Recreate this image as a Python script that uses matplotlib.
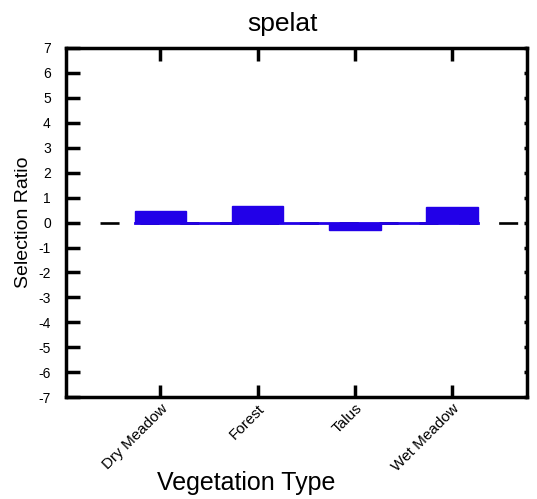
import matplotlib.pyplot as plt
import numpy as np

plt.rcParams['font.family'] = ['Liberation Sans', 'DejaVu Sans']
plt.rcParams['lines.scale_dashes'] = False

# data
categories = ['Dry Meadow', 'Forest', 'Talus', 'Wet Meadow']
ratios = [0.48, 0.65, -0.29, 0.61]
yticks = list(range(-7, 8))

bar_color = '#2200e8'
pos = np.arange(1, len(categories) + 1)
width = 0.53

fig = plt.figure(figsize=(5.37, 4.99), dpi=100)
ax = fig.add_axes([0.123, 0.204, 0.858, 0.700])

# dashed zero reference line
ax.axhline(0, color='black', lw=1.9, linestyle=(4.2, (13.7, 15.0)), zorder=1)
# blue baseline joining the bars
ax.plot([pos[0] - width / 2, pos[-1] + width / 2], [0, 0], color=bar_color, lw=2, zorder=2)
ax.bar(pos, ratios, width=width, color=bar_color, edgecolor=bar_color, lw=1, zorder=3)

ax.set_xlim(0.03, 4.77)
ax.set_ylim(-7, 7)
ax.set_yticks(yticks)
ax.set_yticklabels([str(t) for t in yticks], fontsize=10)
ax.set_xticks(pos)
ax.set_xticklabels(categories, rotation=45, ha='right', rotation_mode='anchor', fontsize=11)

for s in ax.spines.values():
    s.set_linewidth(2.5)

ax.tick_params(axis='y', direction='in', length=10, width=2.5, pad=11, right=True)
ax.tick_params(axis='x', direction='in', length=9, width=2.5, pad=3, top=True)
# right side ticks are only tiny dots
for t in ax.yaxis.get_major_ticks():
    t.tick2line.set_markersize(2)

ax.set_title('spelat', fontsize=19, x=0.47, pad=12)
ax.set_xlabel('Vegetation Type', fontsize=18)
ax.xaxis.set_label_coords(0.39, -0.21)
ax.set_ylabel('Selection Ratio', fontsize=14)
ax.yaxis.set_label_coords(-0.074, 0.5)

fig.savefig('out.png', dpi=100)
